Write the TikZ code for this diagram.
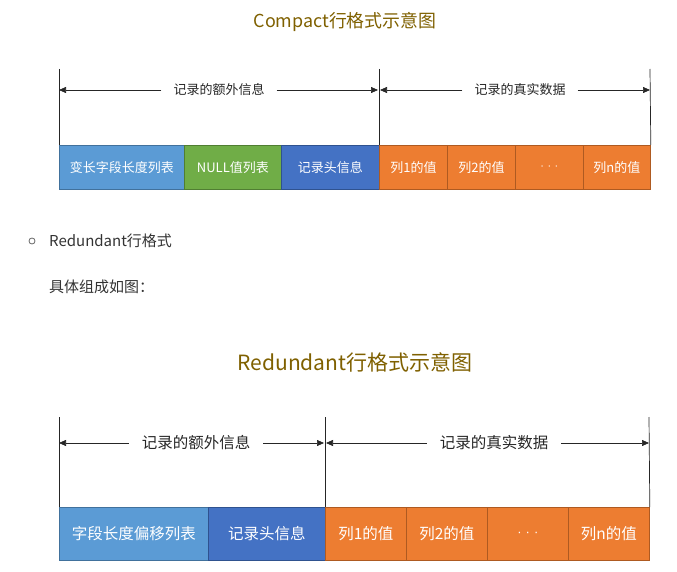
\documentclass[tikz,border=0pt]{standalone}
\usepackage{fontspec}
\setmainfont{Noto Sans CJK SC}
\newfontfamily\latf{Liberation Sans}
\usetikzlibrary{arrows.meta}
\definecolor{ttl}{HTML}{7F6000}
\definecolor{bfill}{HTML}{5B9BD5}\definecolor{bline}{HTML}{41719C}
\definecolor{gfill}{HTML}{70AD47}\definecolor{gline}{HTML}{507E32}
\definecolor{dfill}{HTML}{4472C4}\definecolor{dline}{HTML}{2F528F}
\definecolor{ofill}{HTML}{ED7D31}\definecolor{oline}{HTML}{AE5A21}
\definecolor{txt}{HTML}{333333}
\newcommand{\dotsA}{{\latf\fontsize{11}{12}\selectfont ·\hspace{3.5pt}·\hspace{3.5pt}·}}
\newcommand{\dotsB}{{\latf\fontsize{13}{14}\selectfont ·\hspace{4pt}·\hspace{4pt}·}}
\begin{document}
\begin{tikzpicture}[x=1pt,y=-1pt,
  cell/.style={draw, line width=0.8pt, anchor=north west, text=white, inner sep=0pt, minimum height=#1},
  cellA/.style={cell=44pt, font=\fontsize{13}{15}\selectfont},
  cellB/.style={cell=53pt, font=\fontsize{15.5}{17}\selectfont},
  bluec/.style={fill=bfill, draw=bline},
  greenc/.style={fill=gfill, draw=gline},
  darkc/.style={fill=dfill, draw=dline},
  orangec/.style={fill=ofill, draw=oline},
  vline/.style={draw=black!85, line width=0.7pt},
  arr/.style={draw=black!85, line width=0.7pt, -{Triangle[length=7pt,width=6pt]}},
  ttlA/.style={text=ttl, font=\fontsize{17.9}{21}\selectfont},
  ttlB/.style={text=ttl, font=\fontsize{21}{25}\selectfont},
  labA/.style={font=\fontsize{13}{15}\selectfont, text=black!85, inner ysep=0pt},
  labB/.style={font=\fontsize{15.5}{17}\selectfont, text=black!85, inner ysep=0pt},
  body/.style={font=\fontsize{15}{17}\selectfont, text=txt, anchor=west, inner sep=0pt}
]
\useasboundingbox (0,0) rectangle (677,572);

% ---------- Compact ----------
\node[ttlA] (t1) at (345,22) {Compact行格式示意图};
\node[cellA,bluec,minimum width=125pt] (a1) at (59,145) {变长字段长度列表};
\node[cellA,greenc,minimum width=97pt] (a2) at (184,145) {NULL值列表};
\node[cellA,darkc,minimum width=98pt] (a3) at (281,145) {记录头信息};
\node[cellA,orangec,minimum width=68pt] (a4) at (379,145) {列1的值};
\node[cellA,orangec,minimum width=68pt] (a5) at (447,145) {列2的值};
\node[cellA,orangec,minimum width=68pt] (a6) at (515,145) {\dotsA};
\node[cellA,orangec,minimum width=67pt] (a7) at (583,145) {列n的值};

\coordinate (ta) at (59,69);
\coordinate (tb) at (379,69);
\coordinate (tc) at (650,69);
\draw[vline] (ta) -- (a1.north west);
\draw[vline] (tb) -- (a4.north west);
\draw[vline] (tc) -- (a7.north east);

\coordinate (la) at (59,90);
\coordinate (lb1) at (378,90);
\coordinate (lb2) at (380,90);
\coordinate (lc) at (650,90);
\node[labA, inner xsep=12pt] (l1) at (219,90) {记录的额外信息};
\node[labA, inner xsep=12pt] (l2) at (520,90) {记录的真实数据};
\draw[arr] (l1.west) -- (la);
\draw[arr] (l1.east) -- (lb1);
\draw[arr] (l2.west) -- (lb2);
\draw[arr] (l2.east) -- (lc);

% ---------- text ----------
\node[draw=black!60, line width=0.8pt, circle, inner sep=0pt, minimum size=6pt] (bul) at (32,241) {};
\node[body] (p1) at (49,241) {Redundant行格式};
\node[body] (p2) at (49,287) {具体组成如图：};

% ---------- Redundant ----------
\node[ttlB] (t2) at (355,362) {Redundant行格式示意图};
\node[cellB,bluec,minimum width=149pt] (b1) at (59,507) {字段长度偏移列表};
\node[cellB,darkc,minimum width=117pt] (b2) at (208,507) {记录头信息};
\node[cellB,orangec,minimum width=81pt] (b3) at (325,507) {列1的值};
\node[cellB,orangec,minimum width=81pt] (b4) at (406,507) {列2的值};
\node[cellB,orangec,minimum width=81pt] (b5) at (487,507) {\dotsB};
\node[cellB,orangec,minimum width=81pt] (b6) at (568,507) {列n的值};

\coordinate (ua) at (59,417);
\coordinate (ub) at (325,417);
\coordinate (uc) at (649,417);
\draw[vline] (ua) -- (b1.north west);
\draw[vline] (ub) -- (b3.north west);
\draw[vline] (uc) -- (b6.north east);

\coordinate (ma) at (59,443);
\coordinate (mb1) at (324,443);
\coordinate (mb2) at (326,443);
\coordinate (mc) at (649,443);
\node[labB, inner xsep=13pt] (m1) at (196,443) {记录的额外信息};
\node[labB, inner xsep=13pt] (m2) at (494,443) {记录的真实数据};
\draw[arr] (m1.west) -- (ma);
\draw[arr] (m1.east) -- (mb1);
\draw[arr] (m2.west) -- (mb2);
\draw[arr] (m2.east) -- (mc);
\end{tikzpicture}
\end{document}
